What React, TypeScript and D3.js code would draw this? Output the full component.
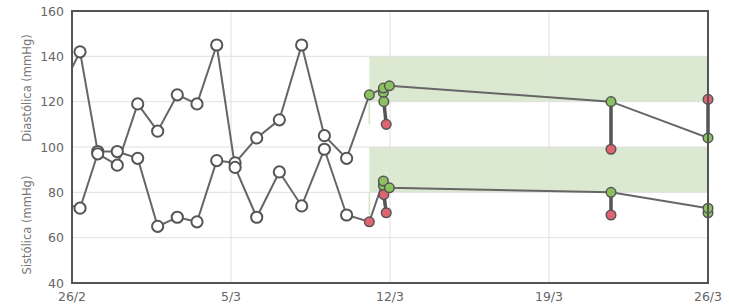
import React from "react";
import * as d3 from "d3";

// readings on the thin line (first one sits left of the visible range)
const lineTimes = [
  "2023-02-25T08:30", "2023-02-26T08:30", "2023-02-27T03:10", "2023-02-27T23:50",
  "2023-02-28T21:25", "2023-03-01T18:30", "2023-03-02T15:15", "2023-03-03T12:05",
  "2023-03-04T08:55", "2023-03-05T04:20", "2023-03-06T03:10", "2023-03-07T03:05",
  "2023-03-08T02:40", "2023-03-09T02:40", "2023-03-10T02:10", "2023-03-11T02:10",
  "2023-03-11T17:00", "2023-03-11T23:20", "2023-03-21T17:30", "2023-03-26T00:00",
];
const upperValues = [122, 142, 98, 98, 95, 65, 69, 67, 94, 93, 104, 112, 145, 105, 95, 123, 126, 127, 120, 104];
const lowerValues = [76, 73, 97, 92, 119, 107, 123, 119, 145, 91, 69, 89, 74, 99, 70, 67, 85, 82, 80, 73];
const upperStatus = ["w", "w", "w", "w", "w", "w", "w", "w", "w", "w", "w", "w", "w", "w", "w", "g", "g", "g", "g", "g"];
const lowerStatus = ["w", "w", "w", "w", "w", "w", "w", "w", "w", "w", "w", "w", "w", "w", "w", "r", "g", "g", "g", "g"];

// extra readings joined to a line reading by a thick stroke
const extraTimes = ["2023-03-11T17:00", "2023-03-11T17:30", "2023-03-11T20:00", "2023-03-21T17:30", "2023-03-26T00:00"];
const extraAnchor = [16, 16, 16, 18, 19];
const upperExtra = [124, 120, 110, 99, 121];
const upperExtraStatus = ["g", "g", "r", "r", "r"];
const lowerExtra = [83, 79, 71, 70, 71];
const lowerExtraStatus = ["g", "r", "r", "r", "g"];

// target ranges
const bands = [[120, 140], [80, 100]];
const bandStart = "2023-03-11T02:10";

const yTicks = [40, 60, 80, 100, 120, 140, 160];
const xTicks = ["2023-02-26T00:00", "2023-03-05T00:00", "2023-03-12T00:00", "2023-03-19T00:00", "2023-03-26T00:00"];

const W = 729, H = 306;
const margin = { top: 11, right: 21, bottom: 23, left: 72 };
const fill: Record<string, string> = { w: "#ffffff", g: "#8cc160", r: "#e0646f" };

export default function App() {
  const parse = d3.utcParse("%Y-%m-%dT%H:%M");
  const x = d3
    .scaleUtc()
    .domain([parse(xTicks[0])!, parse(xTicks[xTicks.length - 1])!])
    .range([margin.left, W - margin.right]);
  const y = d3.scaleLinear().domain([40, 160]).range([H - margin.bottom, margin.top]);
  const fmt = d3.utcFormat("%-d/%-m");
  const x0 = margin.left, x1 = W - margin.right, y0 = margin.top, y1 = H - margin.bottom;

  const line = d3
    .line<[Date, number]>()
    .x((d) => x(d[0]))
    .y((d) => y(d[1]));

  const series = [
    { values: upperValues, status: upperStatus, extra: upperExtra, extraStatus: upperExtraStatus },
    { values: lowerValues, status: lowerStatus, extra: lowerExtra, extraStatus: lowerExtraStatus },
  ];
  const start = x.domain()[0];
  const bx = x(parse(bandStart)!);

  return (
    <svg width={W} height={H} style={{ position: "absolute", left: 0, top: 0 }} fontFamily="DejaVu Sans">
      <defs>
        <clipPath id="plot">
          <rect x={x0} y={y0} width={x1 - x0} height={y1 - y0} />
        </clipPath>
      </defs>

      {/* target bands */}
      {bands.map(([lo, hi], i) => (
        <g key={i}>
          <rect x={bx} y={y(hi)} width={x1 - bx} height={y(lo) - y(hi)} fill="#dae9cf" />
          <line x1={bx} x2={bx} y1={y(lo)} y2={y(lo - 10)} stroke="#d3e5c6" strokeWidth={1.5} />
        </g>
      ))}

      {/* grid */}
      {yTicks.map((t) => (
        <line key={t} x1={x0} x2={x1} y1={y(t)} y2={y(t)} stroke="#e0e0e0" />
      ))}
      {xTicks.map((t) => (
        <line key={t} x1={x(parse(t)!)} x2={x(parse(t)!)} y1={y0} y2={y1} stroke="#e0e0e0" />
      ))}

      {/* thin lines */}
      <g clipPath="url(#plot)">
        {series.map((s, i) => (
          <path
            key={i}
            d={line(lineTimes.map((t, j) => [parse(t)!, s.values[j]]))!}
            fill="none"
            stroke="#666"
            strokeWidth={2}
          />
        ))}
      </g>

      {/* white markers */}
      {series.map((s, i) =>
        lineTimes.map((t, j) =>
          s.status[j] === "w" && parse(t)! >= start ? (
            <circle key={`w${i}-${j}`} cx={x(parse(t)!)} cy={y(s.values[j])} r={5.6} fill="#fff" stroke="#555" strokeWidth={2} />
          ) : null
        )
      )}

      {/* thick strokes joining readings of the same moment */}
      {series.map((s, i) =>
        Array.from(new Set(extraAnchor)).map((a) => {
          const pts: [Date, number][] = [[parse(lineTimes[a])!, s.values[a]]];
          extraAnchor.forEach((b, k) => {
            if (b === a) pts.push([parse(extraTimes[k])!, s.extra[k]]);
          });
          return <path key={`t${i}-${a}`} d={line(pts)!} fill="none" stroke="#555" strokeWidth={3.5} />;
        })
      )}

      {/* coloured markers */}
      {series.map((s, i) => (
        <g key={`c${i}`}>
          {extraTimes.map((t, k) => (
            <circle key={`e${k}`} cx={x(parse(t)!)} cy={y(s.extra[k])} r={4.8} fill={fill[s.extraStatus[k]]} stroke="#555" strokeWidth={1.5} />
          ))}
          {lineTimes.map((t, j) =>
            s.status[j] !== "w" ? (
              <circle key={`l${j}`} cx={x(parse(t)!)} cy={y(s.values[j])} r={4.8} fill={fill[s.status[j]]} stroke="#555" strokeWidth={1.5} />
            ) : null
          )}
        </g>
      ))}

      {/* frame */}
      <rect x={x0} y={y0} width={x1 - x0} height={y1 - y0} fill="none" stroke="#555" strokeWidth={2} />

      {/* axis labels */}
      {yTicks.map((t) => (
        <text key={t} x={x0 - 8} y={y(t)} dy="0.36em" textAnchor="end" fontSize={12.5} fill="#666">
          {t}
        </text>
      ))}
      {xTicks.map((t) => (
        <text key={t} x={x(parse(t)!)} y={301} textAnchor="middle" fontSize={12.5} fill="#666">
          {fmt(parse(t)!)}
        </text>
      ))}
      <text transform="translate(31,88) rotate(-90)" textAnchor="middle" fontSize={11.5} fill="#777">
        Diastólica (mmHg)
      </text>
      <text transform="translate(31,225) rotate(-90)" textAnchor="middle" fontSize={11.5} fill="#777">
        Sistólica (mmHg)
      </text>
    </svg>
  );
}
